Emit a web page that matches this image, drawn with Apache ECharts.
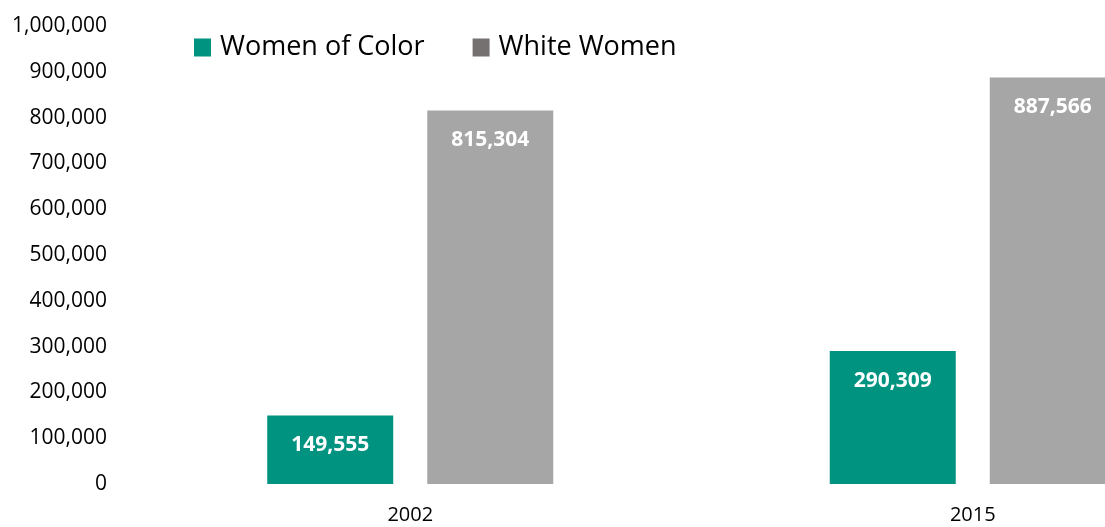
<!DOCTYPE html>
<html>
<head>
<meta charset="utf-8">
<script src="https://cdn.jsdelivr.net/npm/echarts@6/dist/echarts.min.js"></script>
<style>
  html, body { margin: 0; padding: 0; background: #ffffff; overflow: hidden; width: 1105px; height: 527px; }
  /* the drawing surface is wider than the page, so the last bar runs off the right edge */
  #chart { width: 1254px; height: 527px; }
</style>
</head>
<body>
<div id="chart"></div>
<script>
// Years compared
const years = ['2002', '2015'];
// Number of women in each group
const womenOfColor = [149555, 290309];
const whiteWomen = [815304, 887566];
// Value axis range
const yMin = 0;
const yMax = 1000000;
const yStep = 100000;

const fontFamily = '"Open Sans", "Liberation Sans", sans-serif';
const fmt = v => Number(v).toLocaleString('en-US');

const chart = echarts.init(document.getElementById('chart'), null, { renderer: 'canvas' });

const barLabel = {
  show: true,
  position: 'insideTop',
  distance: 19,
  color: '#ffffff',
  fontFamily: fontFamily,
  fontWeight: 'bold',
  fontSize: 21,
  formatter: p => fmt(p.value)
};

chart.setOption({
  animation: false,
  backgroundColor: '#ffffff',
  legend: {
    left: 194,
    top: 34,
    padding: 0,
    itemWidth: 17,
    itemHeight: 18,
    itemGap: 48,
    icon: 'rect',
    textStyle: {
      fontFamily: fontFamily,
      fontSize: 27,
      color: '#000000',
      padding: [0, 0, 0, 4]
    },
    data: [
      { name: 'Women of Color', itemStyle: { color: '#009380' } },
      { name: 'White Women', itemStyle: { color: '#767171' } }
    ]
  },
  grid: {
    left: 129,
    right: 0,
    top: 26,
    bottom: 43,
    containLabel: false
  },
  xAxis: {
    type: 'category',
    data: years,
    axisLine: { show: false },
    axisTick: { show: false },
    axisLabel: {
      margin: 21,
      color: '#000000',
      fontFamily: fontFamily,
      fontSize: 20
    },
    splitLine: { show: false }
  },
  yAxis: {
    type: 'value',
    min: yMin,
    max: yMax,
    interval: yStep,
    axisLine: { show: false },
    axisTick: { show: false },
    splitLine: { show: false },
    axisLabel: {
      margin: 22,
      color: '#000000',
      fontFamily: fontFamily,
      fontSize: 21,
      formatter: v => fmt(v)
    }
  },
  series: [
    {
      name: 'Women of Color',
      type: 'bar',
      data: womenOfColor,
      barWidth: 126,
      barGap: '27%',
      itemStyle: { color: '#009380' },
      label: barLabel
    },
    {
      name: 'White Women',
      type: 'bar',
      data: whiteWomen,
      barWidth: 126,
      barGap: '27%',
      itemStyle: { color: '#a6a6a6' },
      label: barLabel
    }
  ]
});
</script>
</body>
</html>
